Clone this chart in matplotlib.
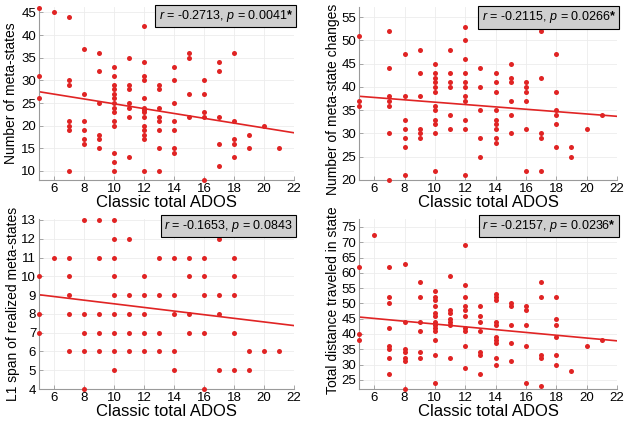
import matplotlib
matplotlib.use("Agg")
import matplotlib.pyplot as plt
import numpy as np

plt.rcParams['font.family'] = ['Liberation Sans', 'DejaVu Sans']
plt.rcParams['mathtext.fontset'] = 'custom'
plt.rcParams['mathtext.rm'] = 'Liberation Sans'
plt.rcParams['mathtext.it'] = 'Liberation Sans:italic'
plt.rcParams['mathtext.bf'] = 'Liberation Sans:bold'

# ---- data: ADOS score -> list of y values ----
meta_states = {
    5: [46, 31, 26], 6: [45], 7: [44, 30, 29, 21, 20, 19, 10],
    8: [37, 27, 21, 19, 17, 16], 9: [36, 32, 25, 18, 17, 15],
    10: [33, 31, 29, 28, 27, 26, 25, 24, 23, 21, 20, 14, 12, 10],
    11: [35, 29, 28, 25, 24, 22, 13],
    12: [42, 34, 31, 30, 26, 24, 23.5, 23, 22, 20, 19, 18, 17, 10],
    13: [29, 28, 24, 22, 21, 19, 15, 10], 14: [33, 30, 25, 21, 19, 15, 14],
    15: [36, 35, 27, 22], 16: [30, 27, 23, 22, 8], 17: [34, 32, 22, 16, 11],
    18: [36, 21, 17, 16, 13], 19: [18, 15], 20: [20], 21: [15],
}
state_changes = {
    5: [51, 37, 36], 7: [52, 44, 38, 37, 36, 30, 20],
    8: [47, 38, 33, 31, 29, 27, 21], 9: [48, 43, 38, 31, 30, 29],
    10: [45, 43, 42, 41, 40, 39, 36, 35, 33, 32, 30, 22],
    11: [48, 43, 41, 40, 34, 31],
    12: [53, 50, 46, 43, 41, 40, 38, 37, 33, 31, 21],
    13: [44, 40, 35, 29, 25], 14: [43, 41, 39, 35, 33, 32, 31, 29, 28],
    15: [45, 42, 41, 37, 34, 30], 16: [41, 40, 39, 37, 31, 22],
    17: [52, 42, 30, 29, 22], 18: [47, 39, 35, 34, 32, 27],
    19: [27, 25], 20: [31], 21: [34],
}
l1_span = {
    5: [10, 8, 7], 6: [11], 7: [11, 10, 9, 8, 6], 8: [13, 8, 7, 6, 4],
    9: [13, 11, 8, 7, 6], 10: [13, 12, 11, 10, 9, 8, 7, 6, 5],
    11: [12, 9, 8, 7, 6], 12: [10, 9, 8, 7, 6], 13: [11, 9, 7, 6],
    14: [11, 9, 8, 6, 5], 15: [11, 10, 8, 7], 16: [11, 10, 9, 7, 4],
    17: [12, 9, 8, 5], 18: [11, 10, 9, 7, 5], 19: [6, 5], 20: [6], 21: [6],
}
distance = {
    5: [62, 40, 38], 6: [72.5], 7: [62, 52, 50, 42, 36, 35, 32, 27],
    8: [63, 44, 35, 34, 32, 31, 22], 9: [57, 52, 44, 41, 34, 32],
    10: [54, 52, 51, 49, 47, 46, 44, 43, 42, 41, 38, 33, 24],
    11: [59, 48, 47, 45, 44, 43, 32],
    12: [69, 56, 52, 49, 48, 46, 42, 41, 36, 29],
    13: [49, 46, 44, 41, 34, 33, 27],
    14: [53, 52, 51, 44, 43, 39, 38, 37, 32, 30],
    15: [50, 49, 43, 37, 31], 16: [49, 48, 43, 36, 24],
    17: [57, 52, 33, 32, 23], 18: [52, 45, 43, 39, 33, 30],
    19: [28], 20: [36], 21: [38],
}

ylabels = ["Number of meta-states", "Number of meta-state changes",
           "L1 span of realized meta-states", "Total distance traveled in state"]
stats = [r"$r$ = -0.2713, $p$ = 0.0041$\mathbf{*}$",
         r"$r$ = -0.2115, $p$ = 0.0266$\mathbf{*}$",
         r"$r$ = -0.1653, $p$ = 0.0843",
         r"$r$ = -0.2157, $p$ = 0.0236$\mathbf{*}$"]
ylims = [(8, 46.2), (20, 57.2), (4, 13.05), (22, 77.6)]
yticks = [np.arange(10, 46, 5), np.arange(20, 56, 5),
          np.arange(4, 14, 1), np.arange(25, 76, 5)]
# y label anchor and stats box height (axes fraction)
ylabel_xy = [(-0.082, 0.5), (-0.072, 0.468), (-0.073, 0.5), (-0.072, 0.52)]
box_y = [0.948, 0.94, 0.96, 0.96]

W, H = 628, 423
# axes boxes in pixels: left, top, right, bottom
boxes = [(39, 7, 294, 180), (359, 7, 617, 180),
         (39, 219, 294, 389), (359, 219, 617, 389)]

fig = plt.figure(figsize=(W / 100, H / 100), dpi=100)
red = '#e02424'

for i, d in enumerate([meta_states, state_changes, l1_span, distance]):
    l, t, r, b = boxes[i]
    ax = fig.add_axes([l / W, 1 - b / H, (r - l) / W, (b - t) / H])
    xs = np.array([k for k in d for _ in d[k]], dtype=float)
    ys = np.array([v for k in d for v in d[k]], dtype=float)
    ax.scatter(xs, ys, s=13, color=red, linewidths=0, zorder=3, clip_on=False)
    m, c = np.polyfit(xs, ys, 1)
    xl = np.array([5, 22])
    ax.plot(xl, m * xl + c, color=red, lw=1.2, zorder=2)

    ax.set_xlim(5, 22)
    ax.set_ylim(*ylims[i])
    ax.set_xticks(np.arange(6, 23, 2))
    ax.set_yticks(yticks[i])
    ax.grid(True, color='#ececec', lw=0.6)
    ax.set_axisbelow(True)
    for s in ['top', 'right']:
        ax.spines[s].set_visible(False)
    for s in ['left', 'bottom']:
        ax.spines[s].set_color('#9a9a9a')
        ax.spines[s].set_linewidth(0.8)
    ax.tick_params(direction='in', length=3, width=0.6, color='#9a9a9a',
                   labelsize=9.5, pad=2)
    ax.set_xlabel("Classic total ADOS", fontsize=12, labelpad=0)
    ax.set_ylabel(ylabels[i], fontsize=10)
    ax.yaxis.set_label_coords(*ylabel_xy[i])
    ax.text(0.995, box_y[i], stats[i], transform=ax.transAxes, ha='right',
            va='center', fontsize=9,
            bbox=dict(boxstyle='square,pad=0.25', fc='#cfcfcf', ec='black', lw=0.8))

fig.savefig("out.png", dpi=100)
